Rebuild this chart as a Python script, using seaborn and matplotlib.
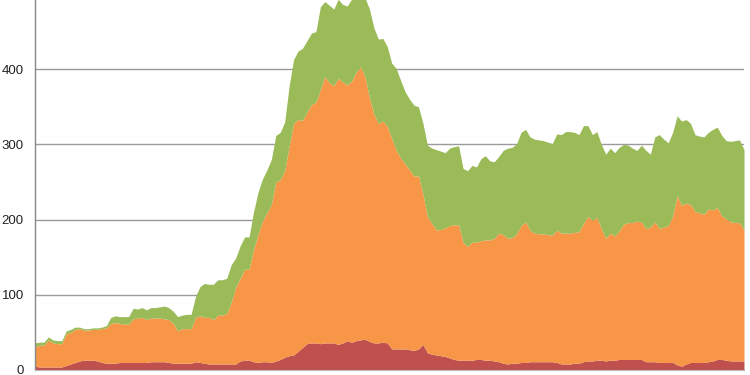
import numpy as np
import matplotlib
matplotlib.use("Agg")
import matplotlib.pyplot as plt
import seaborn as sns

red = [5, 4, 4, 4, 4, 4, 4, 6, 8, 10, 12, 13, 13, 13, 12, 10, 9, 9, 9, 10,
       10, 10, 10, 10, 10, 10, 11, 11, 11, 11, 10, 9, 9, 9, 9, 9, 11, 10, 9, 8,
       8, 8, 8, 8, 8, 8, 12, 13, 13, 11, 10, 11, 11, 10, 12, 14, 17, 19, 20, 25,
       30, 35, 36, 36, 35, 36, 36, 36, 34, 36, 39, 37, 39, 40, 41, 38, 36, 36, 37, 36,
       28, 28, 28, 28, 27, 26, 28, 34, 23, 21, 20, 19, 18, 16, 14, 13, 13, 13, 13, 14,
       14, 13, 13, 12, 11, 9, 8, 9, 9, 10, 10, 11, 11, 11, 11, 11, 11, 10, 8, 8,
       8, 9, 9, 11, 12, 12, 13, 13, 12, 13, 13, 14, 14, 14, 14, 14, 14, 11, 11, 11,
       10, 10, 10, 10, 7, 5, 8, 10, 10, 10, 10, 11, 12, 14, 14, 13, 12, 12, 12, 12]

orange = [26, 29, 29, 36, 32, 31, 31, 42, 42, 44, 43, 40, 40, 41, 42, 45, 47, 53, 54, 52,
          51, 51, 58, 59, 60, 57, 58, 58, 58, 57, 57, 53, 43, 46, 46, 46, 59, 62, 61, 62,
          59, 65, 65, 67, 82, 102, 110, 121, 121, 149, 170, 187, 198, 210, 238, 239, 248, 279, 308, 308,
          302, 308, 317, 320, 338, 354, 346, 342, 354, 347, 340, 347, 357, 363, 349, 324, 304, 292, 294, 288,
          280, 264, 254, 246, 239, 232, 230, 200, 181, 174, 166, 168, 171, 176, 179, 180, 157, 151, 157, 156,
          158, 160, 160, 163, 171, 171, 167, 167, 172, 182, 187, 175, 171, 170, 170, 169, 168, 176, 174, 174,
          174, 174, 175, 184, 192, 187, 190, 175, 163, 169, 165, 171, 180, 182, 182, 184, 183, 177, 179, 186,
          178, 180, 182, 195, 225, 214, 214, 210, 201, 199, 197, 203, 201, 202, 191, 188, 185, 184, 184, 174]

green = [5, 4, 4, 4, 4, 4, 4, 4, 4, 3, 2, 2, 2, 2, 2, 2, 3, 8, 9, 9,
         10, 10, 14, 12, 13, 13, 14, 14, 15, 17, 16, 16, 19, 18, 19, 19, 28, 39, 45, 44,
         47, 47, 47, 47, 50, 39, 43, 43, 43, 50, 56, 56, 57, 60, 62, 63, 65, 80, 85, 91,
         96, 95, 95, 94, 110, 100, 103, 102, 105, 103, 105, 109, 99, 92, 105, 118, 115, 112, 110, 106,
         100, 109, 103, 96, 94, 94, 92, 94, 95, 100, 107, 104, 100, 103, 104, 105, 98, 101, 102, 100,
         109, 112, 105, 102, 102, 112, 120, 120, 120, 124, 123, 124, 125, 125, 124, 123, 122, 128, 131, 135,
         135, 133, 129, 130, 121, 114, 114, 112, 112, 113, 111, 111, 106, 103, 99, 94, 102, 104, 97, 113,
         125, 117, 110, 111, 106, 112, 111, 108, 102, 102, 103, 102, 107, 107, 107, 104, 107, 109, 110, 107]

y_ticks = [0, 100, 200, 300, 400]
colors = ["#c0504d", "#f79646", "#9bbb59"]

sns.set_style("white")
plt.rcParams["font.family"] = ["Liberation Sans", "DejaVu Sans"]

fig = plt.figure(figsize=(7.5, 3.75), dpi=100)
ax = fig.add_axes([35 / 750, 5 / 375, 709 / 750, 370 / 375])

x = np.arange(len(red))
ax.stackplot(x, red, orange, green, colors=colors, linewidth=0, zorder=2)

ax.set_xlim(0, len(red) - 1)
ax.set_ylim(0, 492)
ax.set_yticks(y_ticks)
ax.set_yticklabels([str(v) for v in y_ticks])
ax.set_xticks(x)
ax.set_xticklabels([])

ax.grid(axis="y", color="#9a9a9a", linewidth=1.0, zorder=1)
ax.grid(axis="x", visible=False)
ax.set_axisbelow(True)

sns.despine(ax=ax, top=True, right=True)
ax.spines["left"].set_color("#888888")
ax.spines["left"].set_linewidth(1.0)
ax.spines["bottom"].set_color("#bbbbbb")
ax.spines["bottom"].set_linewidth(0.8)

ax.tick_params(axis="y", length=6, width=1, color="#888888", labelsize=9.5,
               labelcolor="#222222", pad=2)
ax.tick_params(axis="x", length=3, width=0.6, color="#aaaaaa", direction="out")

fig.savefig("out.png", dpi=100)
